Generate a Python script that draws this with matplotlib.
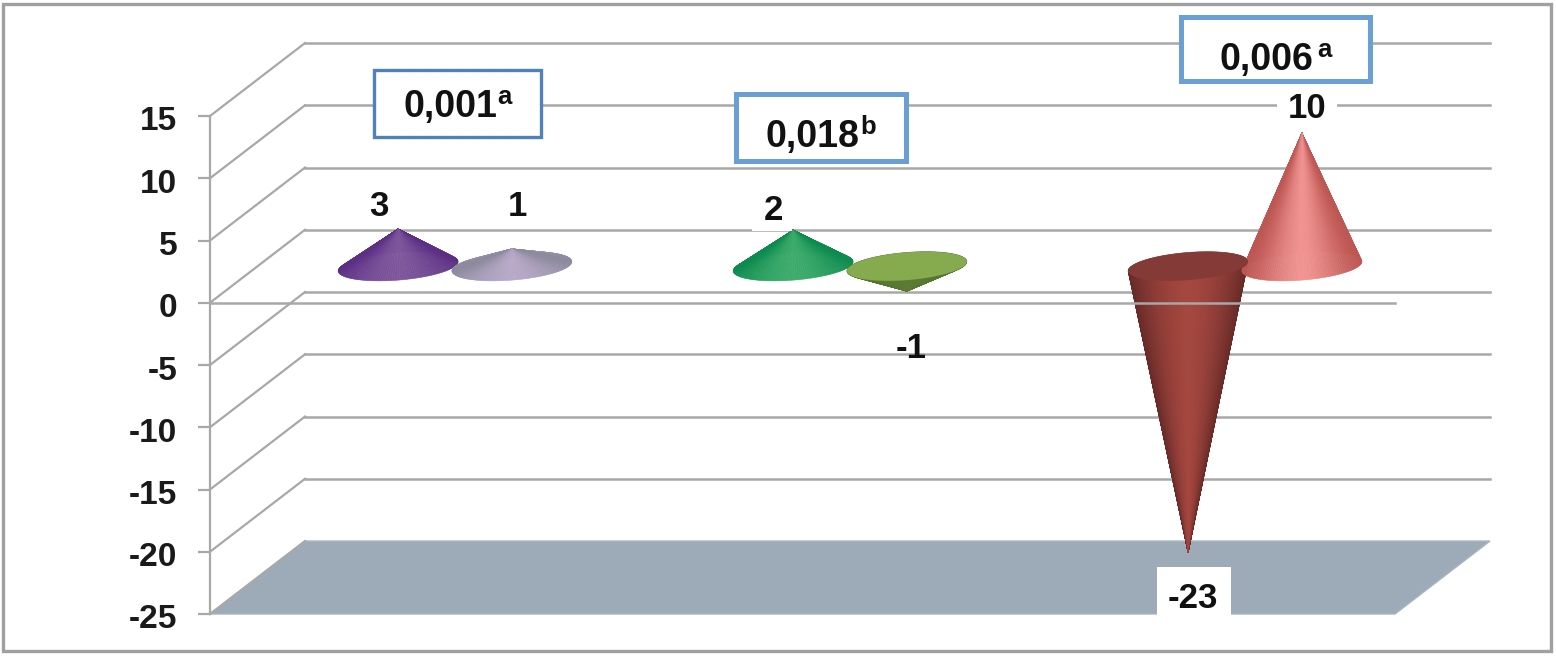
import numpy as np
from matplotlib import pyplot as plt
from matplotlib.collections import PolyCollection
from matplotlib.patches import FancyBboxPatch, Polygon, Rectangle
from matplotlib.transforms import Affine2D, ScaledTranslation

W, H = 1556, 658

# values
y_ticks = [15, 10, 5, 0, -5, -10, -15, -20, -25]
groups = [0, 0, 1, 1, 2, 2]
sides = [-1, 1, -1, 1, -1, 1]
cone_heights = [3.0, 1.4, 2.9, -2.0, -23.0, 10.7]  # drawn height, labels are rounded
value_labels = ["3", "1", "2", "-1", "-23", "10"]
p_values = ["0,001", "0,018", "0,006"]
p_letters = ["a", "b", "a"]

# cone colours: edge of the cone, middle of the cone, top face (only for downward cones)
edge_colors = ["#5c2f85", "#8d8a9e", "#0c8b4e", "#4f6f2b", "#672a28", "#bd5753"]
mid_colors = ["#7d569b", "#b7a8c8", "#3dab6b", "#5c7c34", "#a4473f", "#f09391"]
top_colors = [None, None, None, "#86aa4e", "#843a36", None]

plt.rcParams["font.family"] = ["Liberation Sans", "DejaVu Sans"]
plt.rcParams["axes.unicode_minus"] = False

DEPTH_X = 0.2405
DEPTH_Y = 5.86
GROUP_OFFSET = 0.144
RADIUS = 0.144
RADIUS_DEPTH = 0.2
GREY = "#a8a8a8"


def mix(c1, c2, f):
    a = np.array(plt.matplotlib.colors.to_rgb(c1))
    b = np.array(plt.matplotlib.colors.to_rgb(c2))
    return tuple(a + (b - a) * f)


def draw_cone(ax, cx, cy, height, edge, mid, top):
    '''draws one cone as a fan of thin triangles, back part first'''
    t = np.linspace(0, 2 * np.pi, 145)
    bx = cx + RADIUS * np.cos(t) + RADIUS_DEPTH * DEPTH_X * np.sin(t)
    by = cy + RADIUS_DEPTH * DEPTH_Y * np.sin(t)
    half = np.abs(bx - cx).max()
    tris = []
    colors = []
    order = sorted(range(len(t) - 1), key=lambda i: -np.sin(t[i]))
    for i in order:
        u = abs((bx[i] + bx[i + 1]) / 2 - cx) / half
        f = 1 - u ** 1.7
        if height > 5:
            f = f ** 1.6
        tris.append([(cx, cy + height), (bx[i], by[i]), (bx[i + 1], by[i + 1])])
        colors.append(mix(edge, mid, f))
    coll = PolyCollection(tris, facecolors=colors, edgecolors=colors, linewidths=0.4,
                          zorder=5, clip_on=False)
    ax.add_collection(coll)
    if top is not None:
        ax.add_patch(Polygon(np.column_stack([bx, by]), closed=True, facecolor=top,
                             edgecolor="none", zorder=6, clip_on=False))


fig = plt.figure(figsize=(W / 100, H / 100), dpi=100)
ax = fig.add_axes([210 / W, (H - 614) / H, 1185 / W, 498 / H])
ax.set_xlim(0, 3)
ax.set_ylim(-25, 15)
ax.patch.set_alpha(0)

for name in ["top", "right", "bottom"]:
    ax.spines[name].set_visible(False)
ax.spines["left"].set_color(GREY)
ax.spines["left"].set_linewidth(1.6)
ax.set_xticks([])
ax.set_yticks(y_ticks)
ax.tick_params(axis="y", length=8.6, width=1.6, color=GREY, pad=15)
# tick labels sit a little under their ticks in the reference
down = ScaledTranslation(0, -2.5 / 100, fig.dpi_scale_trans)
for lab in ax.get_yticklabels():
    lab.set_fontsize(24)
    lab.set_fontweight("bold")
    lab.set_color("#1a1a1a")
    lab.set_transform(lab.get_transform() + down)

# floor
floor = -25
ax.add_patch(Polygon([(0, floor), (3, floor), (3 + DEPTH_X, floor + DEPTH_Y), (DEPTH_X, floor + DEPTH_Y)],
                     closed=True, facecolor="#9dabb8", edgecolor="#a9b4bf", linewidth=1,
                     zorder=1, clip_on=False))

# walls
for v in y_ticks:
    ax.plot([0, DEPTH_X], [v, v + DEPTH_Y], color=GREY, lw=1.6, zorder=2, clip_on=False)
    if v != floor:
        ax.plot([DEPTH_X, 3 + DEPTH_X], [v + DEPTH_Y, v + DEPTH_Y], color=GREY, lw=1.8, zorder=2, clip_on=False)

# cones
for g, s, h, c1, c2, c3 in zip(groups, sides, cone_heights, edge_colors, mid_colors, top_colors):
    cx = g + 0.5 + DEPTH_X / 2 + s * GROUP_OFFSET
    draw_cone(ax, cx, DEPTH_Y / 2, h, c1, c2, c3)

# front zero line runs over the dark red cone
ax.plot([0, 3], [0, 0], color=GREY, lw=1.8, zorder=7, clip_on=False)

# everything below is placed by picture pixels
px = Affine2D().scale(1 / W, -1 / H).translate(0, 1) + fig.transFigure

label_x = [379, 517, 773, 911, 1193, 1307]
label_y = [207, 207, 211, 349, 599, 109]
for txt, x, y in zip(value_labels, label_x, label_y):
    fig.text(x, y, txt, transform=px, ha="center", va="center", fontsize=25,
             fontweight="bold", color="#111111", zorder=10)

# white patches behind some labels
fig.add_artist(Rectangle((1157, 567), 74, 50, transform=px, facecolor="white", edgecolor="none", zorder=8))
fig.add_artist(Rectangle((1277, 98), 60, 16, transform=px, facecolor="white", edgecolor="none", zorder=8))
fig.add_artist(Rectangle((752, 226), 40, 5, transform=px, facecolor="white", edgecolor="none", zorder=8))

# boxes with the p values
box_x0 = [374, 736, 1181]
box_x1 = [541, 906, 1370]
box_y0 = [70, 94, 17]
box_y1 = [137, 161, 81]
box_lw = [2.4, 3.6, 3.6]
box_col = ["#4f81bd", "#6a9fd3", "#6ba0d4"]
text_x = [404, 766, 1220]
text_y = [117, 147, 70]
text_w = [93, 94, 97]
for i in range(3):
    fig.add_artist(FancyBboxPatch((box_x0[i], box_y0[i]), box_x1[i] - box_x0[i], box_y1[i] - box_y0[i],
                                  boxstyle="square,pad=0", transform=px, facecolor="white",
                                  edgecolor=box_col[i], linewidth=box_lw[i], zorder=9))
    fig.text(text_x[i], text_y[i], p_values[i], transform=px, ha="left", va="baseline",
             fontsize=27, fontweight="bold", color="#111111", zorder=10)
    fig.text(text_x[i] + text_w[i], text_y[i] - 13, p_letters[i], transform=px, ha="left",
             va="baseline", fontsize=18.5, fontweight="bold", color="#111111", zorder=10)

# outer frame
fig.add_artist(Rectangle((3, 4), 1548, 647, transform=px, facecolor="none",
                         edgecolor="#a0a0a0", linewidth=2.4, zorder=12))

fig.savefig("out.png", dpi=100)
